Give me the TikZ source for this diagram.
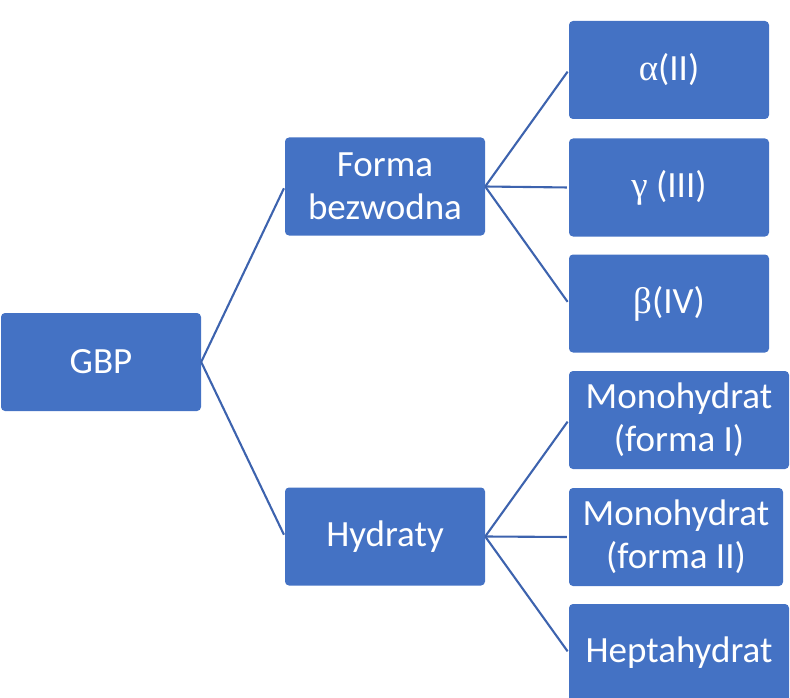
\documentclass[tikz,border=0pt]{standalone}
\usepackage{fontspec}
\setmainfont{Carlito}
\newfontfamily\grk{Liberation Serif}
\definecolor{boxblue}{HTML}{4472C4}
\definecolor{lineblue}{HTML}{3D63AE}
\begin{document}
\begin{tikzpicture}[x=1pt,y=-1pt,
  box/.style={draw=none,fill=boxblue,rounded corners=4pt,text=white,
    font=\fontsize{37}{43}\selectfont,align=center,inner sep=0pt,
    minimum height=98pt},
  link/.style={draw=lineblue,line width=2.1pt,shorten >=2pt}]
\useasboundingbox (0,0) rectangle (790,698);
\begin{scope}
\clip (0,0) rectangle (790,698);
\node[box,minimum width=200pt] (gbp) at (101,362) {GBP};
\node[box,minimum width=200pt] (forma) at (385,186.5) {Forma\\bezwodna};
\node[box,minimum width=200pt] (hyd) at (385,536.5) {Hydraty};
\node[box,minimum width=200pt] (alpha) at (669,70) {{\grk α}(II)};
\node[box,minimum width=200pt] (gamma) at (669,187.5) {{\grk γ} (III)};
\node[box,minimum width=200pt] (beta) at (669,303.5) {{\grk β}(IV)};
\node[box,minimum width=220pt] (mono1) at (679,420) {Monohydrat\\(forma I)};
\node[box,minimum width=214pt] (mono2) at (676,537) {Monohydrat\\(forma II)};
\node[box,minimum width=220pt] (hepta) at (679,653) {Heptahydrat};
\end{scope}
\draw[link] (gbp.east) -- (forma.west);
\draw[link] (gbp.east) -- (hyd.west);
\draw[link] (forma.east) -- (alpha.west);
\draw[link] (forma.east) -- (gamma.west);
\draw[link] (forma.east) -- (beta.west);
\draw[link] (hyd.east) -- (mono1.west);
\draw[link] (hyd.east) -- (mono2.west);
\draw[link] (hyd.east) -- (hepta.west);
\end{tikzpicture}
\end{document}
